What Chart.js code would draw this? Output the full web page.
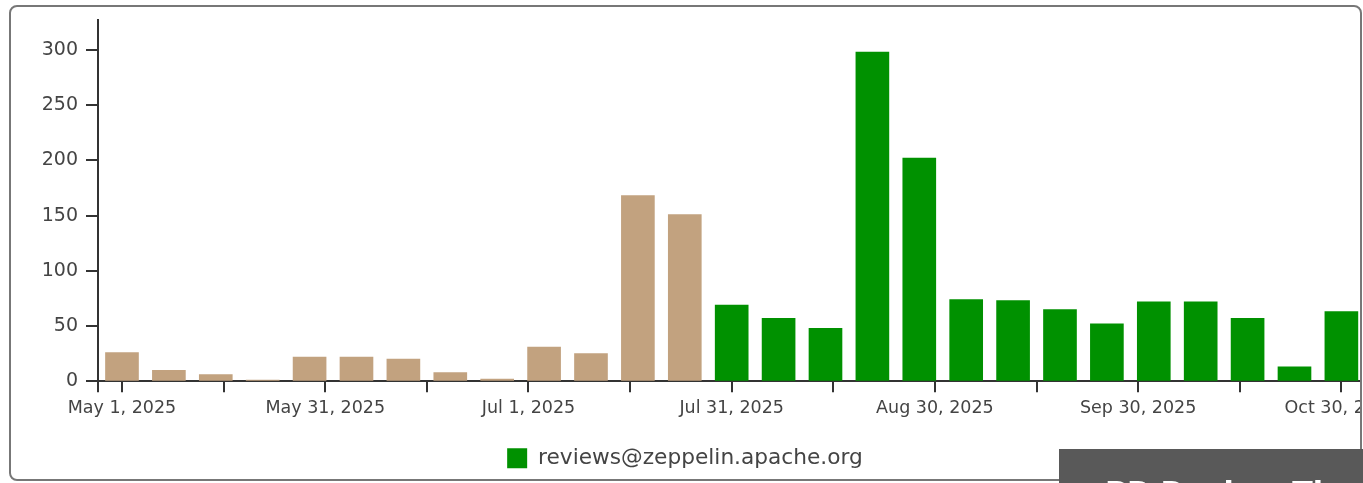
<!DOCTYPE html>
<html>
<head>
<meta charset="utf-8">
<script src="https://cdn.jsdelivr.net/npm/chart.js@4.4.1/dist/chart.umd.min.js"></script>
<style>
  html, body { margin: 0; padding: 0; background: #fff; overflow: hidden; }
  .card {
    position: absolute; left: 9px; top: 5px; width: 1349px; height: 472px;
    border: 2px solid #777; border-radius: 8px; overflow: hidden; background: #fff;
  }
  .chart-box { position: absolute; left: -46px; top: 0; width: 1440px; height: 472px; }
  .heading {
    position: absolute; left: 1059px; top: 449px; width: 320px; height: 60px;
    background: #595959; color: #fff; font: bold 30px "DejaVu Sans", sans-serif;
    padding: 26px 0 0 46px; box-sizing: border-box; white-space: nowrap;
  }
</style>
</head>
<body>
<div class="card">
  <div class="chart-box">
    <canvas id="reviewChart"></canvas>
  </div>
</div>
<div class="heading">PR Review Time</div>
<script>
// weekly buckets (week starting date)
const weeks = [
  '2025-05-01', '2025-05-08', '2025-05-15', '2025-05-22', '2025-05-29',
  '2025-06-05', '2025-06-12', '2025-06-19', '2025-06-26', '2025-07-03',
  '2025-07-10', '2025-07-17', '2025-07-24', '2025-07-31', '2025-08-07',
  '2025-08-14', '2025-08-21', '2025-08-28', '2025-09-04', '2025-09-11',
  '2025-09-18', '2025-09-25', '2025-10-02', '2025-10-09', '2025-10-16',
  '2025-10-23', '2025-10-30'
];
const olderCounts = [26, 10, 6, 1, 22, 22, 20, 8, 2, 31, 25, 168, 151];
const reviewCounts = [69, 57, 48, 298, 202, 74, 73, 65, 52, 72, 72, 57, 13, 63];
const tickLabels = ['May 1, 2025', 'May 31, 2025', 'Jul 1, 2025', 'Jul 31, 2025',
  'Aug 30, 2025', 'Sep 30, 2025', 'Oct 30, 2025'];
const listName = 'reviews@zeppelin.apache.org';

const DAY = 86400000;
const start = Date.parse(weeks[0]);
const dayOf = (d) => (Date.parse(d) - start) / DAY;
const lastDay = dayOf(weeks[weeks.length - 1]);
const edge = 3.58;

const olderPoints = olderCounts.map((v, i) => ({ x: dayOf(weeks[i]), y: v }));
const reviewPoints = reviewCounts.map((v, i) => ({ x: dayOf(weeks[olderCounts.length + i]), y: v }));

const axisColor = '#333';
const textColor = '#444';

const ctx = document.getElementById('reviewChart').getContext('2d');
new Chart(ctx, {
  type: 'bar',
  data: {
    datasets: [{
      label: 'older',
      data: olderPoints,
      backgroundColor: '#c2a27f',
      borderWidth: 0,
      barThickness: 33,
      grouped: false
    }, {
      label: listName,
      data: reviewPoints,
      backgroundColor: '#009100',
      borderWidth: 0,
      barThickness: 33,
      grouped: false
    }]
  },
  options: {
    responsive: true,
    maintainAspectRatio: false,
    animation: false,
    layout: { padding: { top: 13, right: 39, bottom: 0, left: 39 } },
    plugins: {
      tooltip: { enabled: false },
      legend: {
        position: 'bottom',
        labels: {
          filter: (item) => item.datasetIndex === 1,
          boxWidth: 20,
          boxHeight: 20,
          padding: 13,
          color: textColor,
          font: { family: 'DejaVu Sans', size: 21.7 }
        }
      }
    },
    scales: {
      x: {
        type: 'linear',
        offset: false,
        min: -edge,
        max: lastDay + edge,
        afterBuildTicks: (scale) => {
          const ticks = [{ value: -edge + 0.05 }];
          for (let i = 0; i <= 12; i++) ticks.push({ value: i * lastDay / 12 });
          scale.ticks = ticks;
        },
        afterFit: (scale) => { scale.height = 53; },
        ticks: {
          autoSkip: false,
          maxRotation: 0,
          padding: 6,
          color: textColor,
          font: { family: 'DejaVu Sans', size: 17.5 },
          callback: (value, index) => {
            if (index === 0) return '';
            return (index - 1) % 2 === 0 ? tickLabels[(index - 1) / 2] : '';
          }
        },
        grid: { offset: false, drawOnChartArea: false, drawTicks: true, tickLength: 11, color: axisColor, lineWidth: 2 },
        border: { display: true, color: axisColor, width: 2 }
      },
      y: {
        min: 0,
        max: 327,
        afterBuildTicks: (scale) => {
          scale.ticks = scale.ticks.filter(t => t.value % 50 === 0);
        },
        afterFit: (scale) => {
          scale.width = 94;
          scale.paddingTop = 0;
          scale.paddingBottom = 0;
        },
        ticks: {
          stepSize: 50,
          padding: 8,
          color: textColor,
          font: { family: 'DejaVu Sans', size: 19 }
        },
        grid: { drawOnChartArea: false, drawTicks: true, tickLength: 12, color: axisColor, lineWidth: 2 },
        border: { display: true, color: axisColor, width: 2 }
      }
    }
  }
});
</script>
</body>
</html>
